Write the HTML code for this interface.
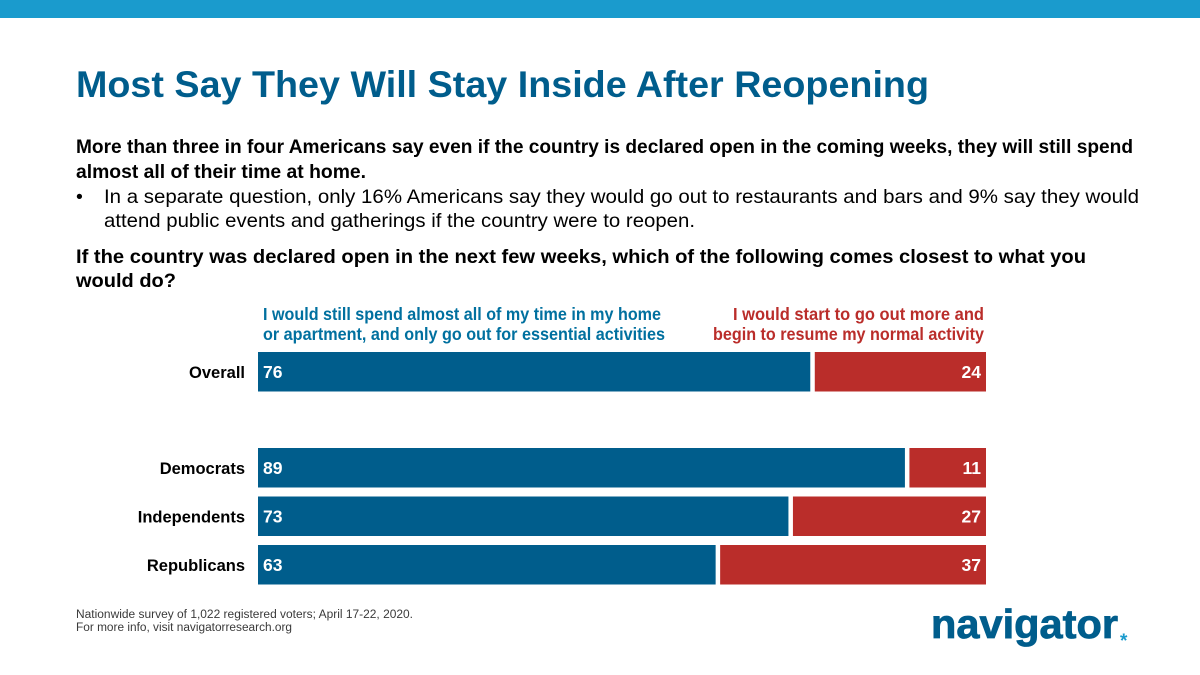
<!DOCTYPE html>
<html lang="en">
<head>
<meta charset="utf-8">
<title>Most Say They Will Stay Inside After Reopening</title>
<style>
html,body{margin:0;padding:0;background:#fff;width:1200px;height:675px;overflow:hidden}
svg{display:block}
text{font-family:"Liberation Sans",sans-serif}
</style>
</head>
<body>
<svg id="slide" width="1200" height="675" viewBox="0 0 1200 675" xmlns="http://www.w3.org/2000/svg">
<rect x="0" y="0" width="1200" height="18" fill="#1a9bcd"/>
<text x="76" y="97" font-size="37" font-weight="700" fill="#005d8c" textLength="853" lengthAdjust="spacingAndGlyphs">Most Say They Will Stay Inside After Reopening</text>
<g font-size="19.5" fill="#000">
<text x="76" y="153" font-weight="700" textLength="1057" lengthAdjust="spacingAndGlyphs">More than three in four Americans say even if the country is declared open in the coming weeks, they will still spend</text>
<text x="76" y="178" font-weight="700" textLength="290" lengthAdjust="spacingAndGlyphs">almost all of their time at home.</text>
<text x="76" y="203">•</text>
<text x="104" y="203" textLength="1035" lengthAdjust="spacingAndGlyphs">In a separate question, only 16% Americans say they would go out to restaurants and bars and 9% say they would</text>
<text x="104" y="227" textLength="591" lengthAdjust="spacingAndGlyphs">attend public events and gatherings if the country were to reopen.</text>
<text x="76" y="263" font-weight="700" textLength="1010" lengthAdjust="spacingAndGlyphs">If the country was declared open in the next few weeks, which of the following comes closest to what you</text>
<text x="76" y="287" font-weight="700" textLength="100" lengthAdjust="spacingAndGlyphs">would do?</text>
</g>
<g font-size="17.5" font-weight="700" fill="#00709f">
<text x="263" y="320" textLength="398" lengthAdjust="spacingAndGlyphs">I would still spend almost all of my time in my home</text>
<text x="263" y="340" textLength="402" lengthAdjust="spacingAndGlyphs">or apartment, and only go out for essential activities</text>
</g>
<g font-size="17.5" font-weight="700" fill="#ba2d2a">
<text x="733" y="320" textLength="251" lengthAdjust="spacingAndGlyphs">I would start to go out more and</text>
<text x="713" y="340" textLength="271" lengthAdjust="spacingAndGlyphs">begin to resume my normal activity</text>
</g>
<g id="chart"></g>
<g font-size="11.5" fill="#3a3a3a">
<text x="76" y="618" textLength="337" lengthAdjust="spacingAndGlyphs">Nationwide survey of 1,022 registered voters; April 17-22, 2020.</text>
<text x="76" y="631" textLength="216" lengthAdjust="spacingAndGlyphs">For more info, visit navigatorresearch.org</text>
</g>
<g>
<text x="931" y="638" font-size="41" font-weight="700" fill="#005d8c" stroke="#005d8c" stroke-width="0.8" textLength="187" lengthAdjust="spacingAndGlyphs">navigator</text>
<text x="1120" y="647" font-size="19" font-weight="700" fill="#1a9bcd">*</text>
</g>
</svg>
<script>
var categories = ['Overall', 'Democrats', 'Independents', 'Republicans'];
var homeValues = [76, 89, 73, 63];
var outValues = [24, 11, 27, 37];

var NS = 'http://www.w3.org/2000/svg';
var chart = document.getElementById('chart');
var plotLeft = 258;
var plotRight = 986;
var barHeight = 39.5;
var barInset = 1;
var barGap = 3.5;
var rowTops = function (i) { return i === 0 ? 352 : 448 + (i - 1) * 48.5; };
var xScale = function (v) { return (plotRight - plotLeft) * v / 100; };

function addRect(x, y, w, h, fill) {
  var r = document.createElementNS(NS, 'rect');
  r.setAttribute('x', x);
  r.setAttribute('y', y);
  r.setAttribute('width', Math.max(0, w));
  r.setAttribute('height', h);
  r.setAttribute('fill', fill);
  chart.appendChild(r);
  return r;
}
function addText(str, x, y, anchor, fill, size, weight) {
  var t = document.createElementNS(NS, 'text');
  t.textContent = str;
  t.setAttribute('x', x);
  t.setAttribute('y', y);
  t.setAttribute('text-anchor', anchor);
  t.setAttribute('fill', fill);
  t.setAttribute('font-size', size);
  t.setAttribute('font-weight', weight);
  chart.appendChild(t);
  return t;
}
categories.forEach(function (cat, i) {
  var top = rowTops(i);
  var base = top + 26;
  var label = addText(cat, 245, base, 'end', '#000', 16.5, 700);
  
  
  var homeBar = addRect(plotLeft, top, xScale(homeValues[i]) - barInset, barHeight, '#005d8c');
  
  
  var outWidth = xScale(outValues[i]) - barGap;
  var outBar = addRect(plotRight - outWidth, top, outWidth, barHeight, '#ba2d2a');
  
  
  var homeLabel = addText(String(homeValues[i]), plotLeft + 5, base, 'start', '#fff', 17.5, 700);
  
  
  var outLabel = addText(String(outValues[i]), plotRight - 5, base, 'end', '#fff', 17.5, 700);
  
  
});
</script>
</body>
</html>
